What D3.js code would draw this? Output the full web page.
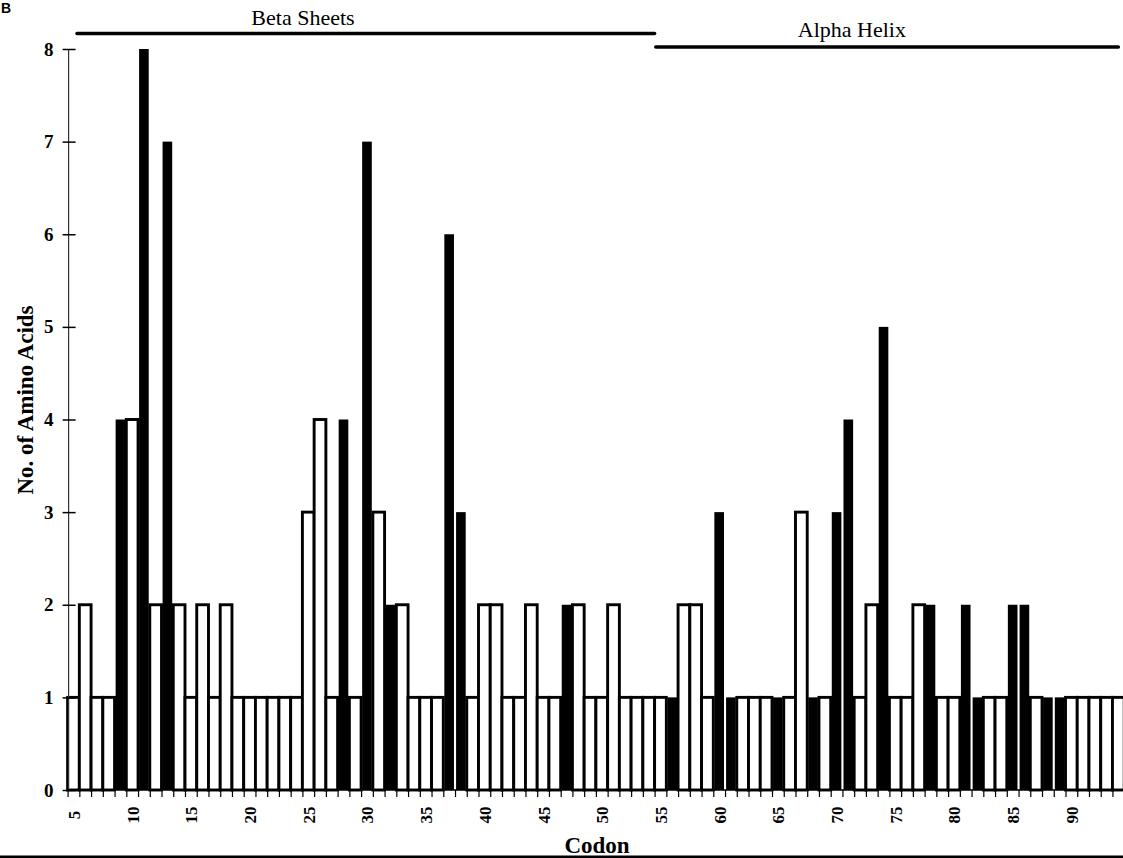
<!DOCTYPE html>
<html>
<head>
<meta charset="utf-8">
<script src="https://cdn.jsdelivr.net/npm/d3@7/dist/d3.min.js"></script>
<style>
  html, body { margin: 0; padding: 0; background: #fff; }
  svg { display: block; }
  text { font-family: "Liberation Serif", "Times New Roman", serif; fill: #000; }
</style>
</head>
<body>
<svg id="chart" width="1123" height="858"></svg>
<script>
// ---- data ----
const codons = [5,6,7,8,9,10,11,12,13,14,15,16,17,18,19,20,21,22,23,24,
  25,26,27,28,29,30,31,32,33,34,35,36,37,38,39,40,41,42,43,44,
  45,46,47,48,49,50,51,52,53,54,55,56,57,58,59,60,61,62,63,64,
  65,66,67,68,69,70,71,72,73,74,75,76,77,78,79,80,81,82,83,84,
  85,86,87,88,89,90,91,92,93,94];
const counts = [1,2,1,1,4,4,8,2,7,2, 1,2,1,2,1,1,1,1,1,1,
  3,4,1,4,1,7,3,2,2,1, 1,1,6,3,1,2,2,1,1,2,
  1,1,2,2,1,1,2,1,1,1, 1,1,2,2,1,3,1,1,1,1,
  1,1,3,1,1,3,4,1,2,5, 1,1,2,2,1,1,2,1,1,1,
  2,2,1,1,1,1,1,1,1,1];
// "B" = solid bar, "W" = open bar
const kinds = ["W","W","W","W","B","W","B","W","B","W", "W","W","W","W","W","W","W","W","W","W",
  "W","W","W","B","W","B","W","B","W","W", "W","W","B","B","W","W","W","W","W","W",
  "W","W","B","W","W","W","W","W","W","W", "W","B","W","W","W","B","B","W","W","W",
  "B","W","W","B","W","B","B","W","W","B", "W","W","W","B","W","W","B","B","W","W",
  "B","B","W","B","B","W","W","W","W","W"];
const xTickLabels = [5,10,15,20,25,30,35,40,45,50,55,60,65,70,75,80,85,90];
const yTicks = [0,1,2,3,4,5,6,7,8];
const regionNames = ["Beta Sheets", "Alpha Helix"];
const regionFrom = [5.8, 55.1];
const regionTo = [55.0, 94.5];
const regionLabelAt = [25.05, 71.8];

// ---- layout ----
const SERIF = "'Liberation Serif', 'Times New Roman', serif";
const svg = d3.select("#chart");
const x0 = 67.6, x1 = 1124.2, yBase = 790, yTop = 49;

const x = d3.scaleBand().domain(codons).range([x0, x1]).padding(0);
const xEdge = d3.scaleLinear().domain([codons[0], codons[codons.length-1] + 1]).range([x0, x1]);
const y = d3.scaleLinear().domain([0, 8]).range([yBase, yTop]);
const bw = x.bandwidth();

const data = codons.map((c, i) => ({codon: c, value: counts[i], kind: kinds[i]}));

// open bars
svg.append("g").selectAll("rect")
  .data(data.filter(d => d.kind === "W"))
  .join("rect")
  .attr("x", d => x(d.codon))
  .attr("width", bw)
  .attr("y", d => y(d.value))
  .attr("height", d => y(0) - y(d.value))
  .attr("fill", "#fff")
  .attr("stroke", "#000")
  .attr("stroke-width", 2.9);

// solid bars
const sw = bw * 0.82;
svg.append("g").selectAll("rect")
  .data(data.filter(d => d.kind === "B"))
  .join("rect")
  .attr("x", d => x(d.codon) + (bw - sw) / 2)
  .attr("width", sw)
  .attr("y", d => y(d.value))
  .attr("height", d => y(0) - y(d.value))
  .attr("fill", "#000");

// y axis
const yAxis = svg.append("g")
  .attr("transform", `translate(${x0 + 1},0)`)
  .call(d3.axisLeft(y).tickValues(yTicks).tickFormat(d3.format("d")).tickSize(6).tickPadding(10));
yAxis.select(".domain").attr("stroke", "#333").attr("stroke-width", 1.2).attr("d", `M0,${yBase}V${yTop}`);
yAxis.selectAll(".tick line").attr("x1", -6).attr("x2", 7).attr("stroke", "#000").attr("stroke-width", 1.5);
yAxis.selectAll(".tick text")
  .style("font-family", SERIF)
  .attr("font-size", 19).attr("font-weight", "bold").attr("x", -15);

// x axis (ticks at category edges)
const xAxis = svg.append("g")
  .attr("transform", `translate(0,${yBase})`)
  .call(d3.axisBottom(xEdge).tickValues(codons.concat([codons[codons.length-1] + 1])).tickFormat("").tickSize(7));
xAxis.select(".domain").attr("stroke", "#000").attr("stroke-width", 1.5).attr("d", `M${x0},0H1123`);
xAxis.selectAll(".tick line").attr("stroke", "#000").attr("stroke-width", 1.2);

// x tick labels (rotated)
svg.append("g").selectAll("text")
  .data(xTickLabels)
  .join("text")
  .attr("transform", d => `translate(${x(d) + bw / 2 + 1},815) rotate(-90)`)
  .attr("text-anchor", "middle")
  .attr("dominant-baseline", "central")
  .style("font-family", SERIF)
  .attr("font-size", 17)
  .attr("font-weight", "bold")
  .text(d => d);

// axis titles
svg.append("text")
  .attr("x", 597).attr("y", 853)
  .attr("text-anchor", "middle")
  .style("font-family", SERIF)
  .attr("font-size", 23).attr("font-weight", "bold")
  .text("Codon");

svg.append("text")
  .attr("transform", "translate(25,400) rotate(-90)")
  .attr("text-anchor", "middle")
  .attr("dominant-baseline", "central")
  .style("font-family", SERIF)
  .attr("font-size", 23).attr("font-weight", "bold")
  .text("No. of Amino Acids");

// bottom rule
svg.append("line")
  .attr("x1", 0).attr("x2", 1123).attr("y1", 857).attr("y2", 857)
  .attr("stroke", "#000").attr("stroke-width", 3);

// secondary structure annotations
const lineY = [33.5, 47];
const labelY = [25, 37];
const labelSize = [22, 22];
regionNames.forEach((name, i) => {
  svg.append("line")
    .attr("x1", xEdge(regionFrom[i])).attr("x2", xEdge(regionTo[i]))
    .attr("y1", lineY[i]).attr("y2", lineY[i])
    .attr("stroke", "#000").attr("stroke-width", 3.5).attr("stroke-linecap", "round");
  svg.append("text")
    .attr("x", xEdge(regionLabelAt[i])).attr("y", labelY[i])
    .attr("text-anchor", "middle")
    .style("font-family", SERIF)
    .attr("font-size", labelSize[i])
    .text(name);
});

// panel letter (at the top-left corner)
svg.append("text")
  .attr("x", 1).attr("y", 13)
  .style("font-family", "'Liberation Sans', Arial, sans-serif")
  .attr("font-size", 14).attr("font-weight", "bold")
  .text("B");
</script>
</body>
</html>
